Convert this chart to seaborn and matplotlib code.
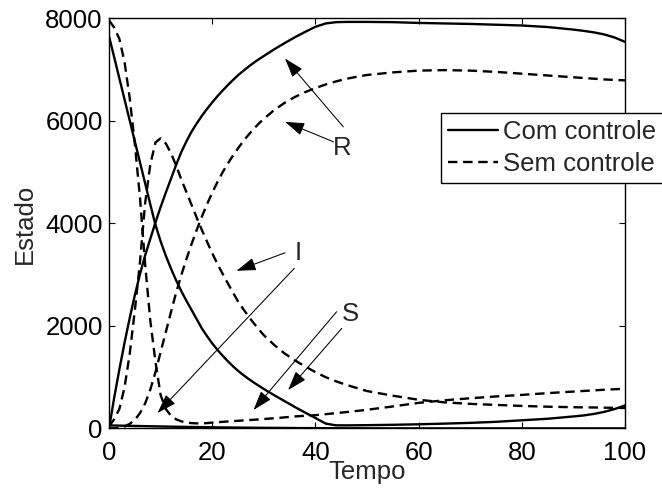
import numpy as np
import pandas as pd
import matplotlib
matplotlib.use("Agg")
import matplotlib.pyplot as plt
from matplotlib.lines import Line2D
import seaborn as sns

# ---------------- data ----------------
tempo = [0, 1, 2, 3, 4, 5, 6, 7, 8, 9, 10, 11, 12, 13, 14, 15, 16, 17, 18, 19, 20,
         21, 22, 23, 24, 25, 26, 27, 28, 29, 30, 32, 34, 36, 38, 40, 42, 44, 46, 48, 50,
         55, 60, 65, 70, 75, 80, 85, 90, 92, 94, 96, 98, 100]

# Com controle (solid)
S_com = [7650, 7240, 6830, 6420, 6010, 5600, 5190, 4780, 4370, 3970, 3650, 3370, 3120, 2890,
         2680, 2490, 2310, 2130, 1950, 1800, 1660, 1535, 1420, 1315, 1215, 1125, 1045, 970,
         900, 835, 770, 650, 535, 420, 310, 205, 95, 62, 61, 63, 65,
         72, 82, 95, 110, 130, 160, 190, 235, 255, 285, 325, 380, 450]
I_com = [60, 58, 56, 54, 52, 50, 48, 46, 44, 42, 40, 38, 36, 34, 33, 31, 30, 28, 27, 25, 24,
         22, 21, 20, 19, 18, 17, 16, 15, 14, 13, 12, 11, 9, 8, 7, 6, 5, 4, 4, 3,
         3, 2, 2, 2, 2, 2, 2, 2, 2, 2, 2, 2, 2]
R_com = [0, 600, 1150, 1670, 2150, 2600, 3010, 3380, 3700, 4020, 4320, 4600, 4870, 5140,
         5390, 5600, 5790, 5950, 6100, 6235, 6360, 6480, 6590, 6695, 6795, 6890, 6975, 7055,
         7130, 7200, 7265, 7395, 7515, 7630, 7735, 7835, 7900, 7925, 7930, 7930, 7930,
         7925, 7910, 7900, 7890, 7875, 7860, 7830, 7780, 7755, 7725, 7685, 7625, 7540]

# Sem controle (dashed)
S_sem = [7960, 7820, 7600, 7150, 6450, 5550, 4500, 3200, 2100, 1300, 650, 380, 250, 180,
         140, 115, 105, 100, 100, 105, 115, 122, 130, 137, 144, 150, 157, 164, 170, 177, 185,
         200, 217, 235, 248, 260, 280, 300, 320, 342, 365,
         430, 500, 550, 590, 625, 655, 690, 720, 732, 744, 756, 766, 775]
I_sem = [40, 180, 380, 800, 1450, 2300, 3250, 4400, 5150, 5580, 5660, 5560, 5370, 5130,
         4860, 4610, 4360, 4110, 3870, 3640, 3420, 3210, 3020, 2835, 2655, 2480, 2330, 2190,
         2060, 1935, 1820, 1630, 1465, 1330, 1210, 1100, 1000, 920, 850, 790, 730,
         640, 560, 510, 480, 460, 440, 425, 415, 412, 410, 406, 403, 400]
R_sem = [0, 5, 15, 40, 90, 170, 300, 490, 760, 1100, 1490, 1880, 2270, 2650, 2990, 3305,
         3600, 3875, 4135, 4375, 4600, 4805, 4995, 5165, 5320, 5465, 5600, 5725, 5840, 5945,
         6040, 6210, 6350, 6465, 6560, 6640, 6710, 6770, 6820, 6860, 6895,
         6945, 6980, 6990, 6980, 6955, 6920, 6885, 6850, 6836, 6822, 6808, 6798, 6790]

legenda = ["Com controle", "Sem controle"]
x_ticks = [0, 20, 40, 60, 80, 100]
y_ticks = [0, 2000, 4000, 6000, 8000]

series = {
    ("S", legenda[0]): S_com, ("I", legenda[0]): I_com, ("R", legenda[0]): R_com,
    ("S", legenda[1]): S_sem, ("I", legenda[1]): I_sem, ("R", legenda[1]): R_sem,
}
rows = []
for (var, ctrl), vals in series.items():
    for t, v in zip(tempo, vals):
        rows.append({"Tempo": t, "Estado": v, "serie": var + ctrl, "controle": ctrl})
df = pd.DataFrame(rows)

# ---------------- style ----------------
sns.set_style("ticks")
plt.rcParams["font.family"] = ["Liberation Sans", "DejaVu Sans"]
plt.rcParams["axes.linewidth"] = 1.0
FS = 18.5

fig = plt.figure(figsize=(6.62, 4.91), dpi=100)
ax = fig.add_axes([0.1647, 0.1273, 0.7795, 0.8354])

DASH = (4, 2.4)
sns.lineplot(data=df, x="Tempo", y="Estado", units="serie", estimator=None,
             style="controle", dashes={legenda[0]: "", legenda[1]: DASH},
             color="k", linewidth=1.7, legend=False, ax=ax)

ax.set_xlim(0, 100)
ax.set_ylim(0, 8000)
ax.set_xticks(x_ticks)
ax.set_yticks(y_ticks)
ax.tick_params(direction="in", length=4, width=0.8, top=True, right=True,
               labelsize=FS, colors="k")
ax.tick_params(axis="x", pad=9)
ax.tick_params(axis="y", pad=4.5)
for sp in ax.spines.values():
    sp.set_visible(True)
    sp.set_color("k")
ax.set_xlabel("Tempo", fontsize=FS, labelpad=-3.5)
ax.set_ylabel("Estado", fontsize=FS, labelpad=6)

# ---------------- annotations ----------------
ap = dict(arrowstyle="-|>,head_length=1.0,head_width=0.33", color="k", lw=0.75,
          shrinkA=0, shrinkB=0, mutation_scale=12)
arrows = [((45.4, 5883), (34.1, 7216)), ((43.5, 5591), (34.1, 5981)),
          ((34.1, 3427), (24.7, 3076)), ((35.9, 3123), (9.4, 302)),
          ((44.1, 2277), (28.0, 361)), ((45.1, 1953), (34.7, 750))]
for tail, tip in arrows:
    ax.annotate("", xy=tip, xytext=tail, arrowprops=ap)
ax.text(45.1, 5480, "R", fontsize=FS, ha="center", va="center")
ax.text(36.6, 3415, "I", fontsize=FS, ha="center", va="center")
ax.text(46.7, 2226, "S", fontsize=FS, ha="center", va="center")

# ---------------- legend ----------------
handles = [Line2D([], [], color="k", lw=1.7),
           Line2D([], [], color="k", lw=1.7, dashes=DASH)]
leg = ax.legend(handles, legenda, loc="upper left", bbox_to_anchor=(0.643, 0.769),
                borderaxespad=0, fontsize=FS, frameon=True, fancybox=False,
                framealpha=1, edgecolor="k", handlelength=1.95, handletextpad=0.2,
                borderpad=0.27, labelspacing=0.3)
leg.get_frame().set_linewidth(1.0)

fig.savefig("out.png", dpi=100)
